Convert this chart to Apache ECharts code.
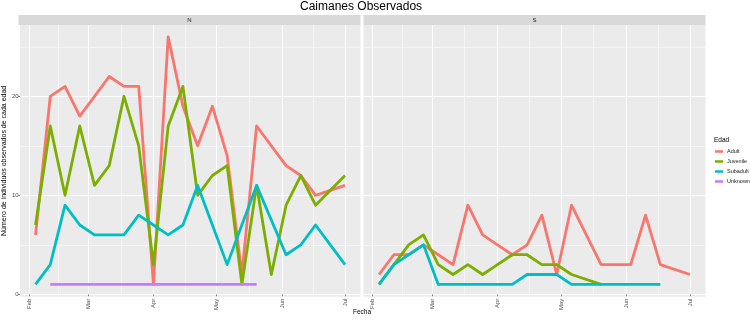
<!DOCTYPE html>
<html>
<head>
<meta charset="utf-8">
<script src="https://cdn.jsdelivr.net/npm/echarts@6/dist/echarts.min.js"></script>
<style>html,body{margin:0;padding:0;background:#fff}#c{width:750px;height:330px}</style>
</head>
<body>
<div id="c"></div>
<script>
// ---- data ----
var dates = ['2018-02-04','2018-02-11','2018-02-18','2018-02-25','2018-03-04','2018-03-11','2018-03-18','2018-03-25',
  '2018-04-01','2018-04-08','2018-04-15','2018-04-22','2018-04-29','2018-05-06','2018-05-13','2018-05-20',
  '2018-05-27','2018-06-03','2018-06-10','2018-06-17','2018-06-24','2018-07-01'];
var panels = ['N', 'S'];
var ageGroups = ['Adult', 'Juvenile', 'Subadult', 'Unknown'];

var adultN    = [6,20,21,18,20,22,21,21,1,26,19,15,19,14,2,17,15,13,12,10,null,11];
var juvenileN = [7,17,10,17,11,13,20,15,3,17,21,10,12,13,1,11,2,9,12,9,null,12];
var subadultN = [1,3,9,7,6,6,6,8,7,6,7,11,7,3,7,11,null,4,5,7,5,3];
var unknownN  = [null,1,1,1,1,1,1,1,1,1,1,1,1,1,1,1,null,null,null,null,null,null];

var adultS    = [2,4,4,5,4,3,9,6,5,4,5,8,2,9,6,3,3,3,8,3,null,2];
var juvenileS = [1,3,5,6,3,2,3,2,3,4,4,3,3,2,null,1,null,null,null,null,null,null];
var subadultS = [1,3,4,5,1,1,1,1,1,1,2,2,2,1,1,1,1,1,1,1,null,null];
var unknownS  = [null,null,null,null,null,null,null,null,null,null,null,null,null,null,null,null,null,null,null,null,null,null];

var monthTickDates = ['2018-02-01','2018-03-01','2018-04-01','2018-05-01','2018-06-01','2018-07-01'];
var monthTickLabels = ['Feb','Mar','Apr','May','Jun','Jul'];
var yTickValues = [0, 10, 20];

// ---- helpers ----
var DAY = 86400000;
var t = function (s) { return Date.parse(s); };
var dateMs = dates.map(t);
var monthMs = monthTickDates.map(t);
var monthMinor = [];
for (var i = 0; i < monthMs.length - 1; i++) monthMinor.push((monthMs[i] + monthMs[i + 1]) / 2);
var yMinor = [];
for (var j = 0; j < yTickValues.length; j++) yMinor.push(yTickValues[j] + 5);

var span = dateMs[dateMs.length - 1] - dateMs[0];
var xMin = dateMs[0] - span * 0.05;
var xMax = dateMs[dateMs.length - 1] + span * 0.05;
var yMin = -0.24, yMax = 27.2;

var colors = ['#F8766D', '#7CAE00', '#00BFC4', '#C77CFF'];
var seriesValues = [[adultN, juvenileN, subadultN, unknownN], [adultS, juvenileS, subadultS, unknownS]];

function pairs(vals) {
  var out = [];
  for (var k = 0; k < vals.length; k++) if (vals[k] != null) out.push([dateMs[k], vals[k]]);
  return out;
}
function monthLabel(v) {
  for (var k = 0; k < monthMs.length; k++) if (Math.abs(monthMs[k] - v) < DAY) return monthTickLabels[k];
  return '';
}

var FONT = 'Liberation Sans, Arial, sans-serif';
var gridLeft = [18.5, 363.5], gridW = 342, gridTop = 25, stripH = 10;

var grids = [], xAxes = [], yAxes = [], series = [], graphics = [];
panels.forEach(function (p, g) {
  grids.push({left: gridLeft[g], width: gridW, top: gridTop, height: 271.7, show: true,
    backgroundColor: '#EBEBEB', borderWidth: 0, containLabel: false});
  graphics.push({type: 'rect', left: gridLeft[g], top: gridTop - stripH, z: 0,
    shape: {width: gridW, height: stripH}, style: {fill: '#D9D9D9'}, silent: true});
  graphics.push({type: 'text', x: gridLeft[g] + gridW / 2, y: gridTop - stripH / 2, z: 1, silent: true,
    style: {text: p, align: 'center', verticalAlign: 'middle', fontSize: 6, fill: '#1A1A1A', fontFamily: FONT}});
  // major x
  xAxes.push({gridIndex: g, type: 'value', min: xMin, max: xMax, position: 'bottom',
    axisLine: {show: false},
    axisTick: {show: true, length: 2, customValues: monthMs, lineStyle: {color: '#333', width: 0.6}},
    axisLabel: {show: true, customValues: monthMs, rotate: 90, margin: 2, fontSize: 6, color: '#4D4D4D',
      fontFamily: FONT, formatter: monthLabel},
    splitLine: {show: true, lineStyle: {color: '#FFFFFF', width: 1}}});
  // minor x
  xAxes.push({gridIndex: g, type: 'value', min: xMin, max: xMax, position: 'top',
    axisLine: {show: false}, axisTick: {show: false, customValues: monthMinor}, axisLabel: {show: false},
    splitLine: {show: true, lineStyle: {color: '#FFFFFF', width: 0.5}}});
  // major y
  yAxes.push({gridIndex: g, type: 'value', min: yMin, max: yMax, position: 'left',
    axisLine: {show: false},
    axisTick: {show: g === 0, length: 2, customValues: yTickValues, lineStyle: {color: '#333', width: 0.6}},
    axisLabel: {show: g === 0, customValues: yTickValues, margin: 1.5, fontSize: 6, color: '#4D4D4D', fontFamily: FONT},
    splitLine: {show: true, lineStyle: {color: '#FFFFFF', width: 1}},
    name: g === 0 ? 'Número de individuos observados de cada edad' : '',
    nameLocation: 'middle', nameGap: 8,
    nameTextStyle: {fontSize: 7, color: '#000', fontFamily: FONT}});
  // minor y
  yAxes.push({gridIndex: g, type: 'value', min: yMin, max: yMax, position: 'right',
    axisLine: {show: false}, axisTick: {show: false, customValues: yMinor}, axisLabel: {show: false},
    splitLine: {show: true, lineStyle: {color: '#FFFFFF', width: 0.5}}});

  ageGroups.forEach(function (name, s) {
    var d = pairs(seriesValues[g][s]);
    series.push({type: 'line', name: name, xAxisIndex: g * 2, yAxisIndex: g * 2, data: d,
      showSymbol: false, symbol: 'none', animation: false, silent: true,
      color: colors[s],
      lineStyle: {color: colors[s], width: 2.8, join: 'round', cap: 'butt'}});
  });
});

var chart = echarts.init(document.getElementById('c'), null, {renderer: 'canvas'});
chart.setOption({
  animation: false,
  backgroundColor: '#FFFFFF',
  textStyle: {fontFamily: FONT},
  title: [
    {text: 'Caimanes Observados', left: 300, top: 1, padding: 0,
      textStyle: {fontSize: 12, fontWeight: 'normal', color: '#000', fontFamily: FONT}},
    {text: 'Fecha', left: 353, top: 309, padding: 0,
      textStyle: {fontSize: 6.5, fontWeight: 'normal', color: '#000', fontFamily: FONT}},
    {text: 'Edad', left: 714, top: 137, padding: 0,
      textStyle: {fontSize: 6.5, fontWeight: 'normal', color: '#000', fontFamily: FONT}}
  ],
  legend: {orient: 'vertical', left: 715, top: 148, padding: 0, itemGap: 3,
    itemWidth: 8, itemHeight: 2.5, icon: 'rect',
    data: ageGroups,
    textStyle: {fontSize: 5.5, lineHeight: 7, color: '#1A1A1A', fontFamily: FONT, padding: [0, 0, 0, -1]}},
  graphic: graphics,
  grid: grids,
  xAxis: xAxes,
  yAxis: yAxes,
  series: series
});
</script>
</body>
</html>
